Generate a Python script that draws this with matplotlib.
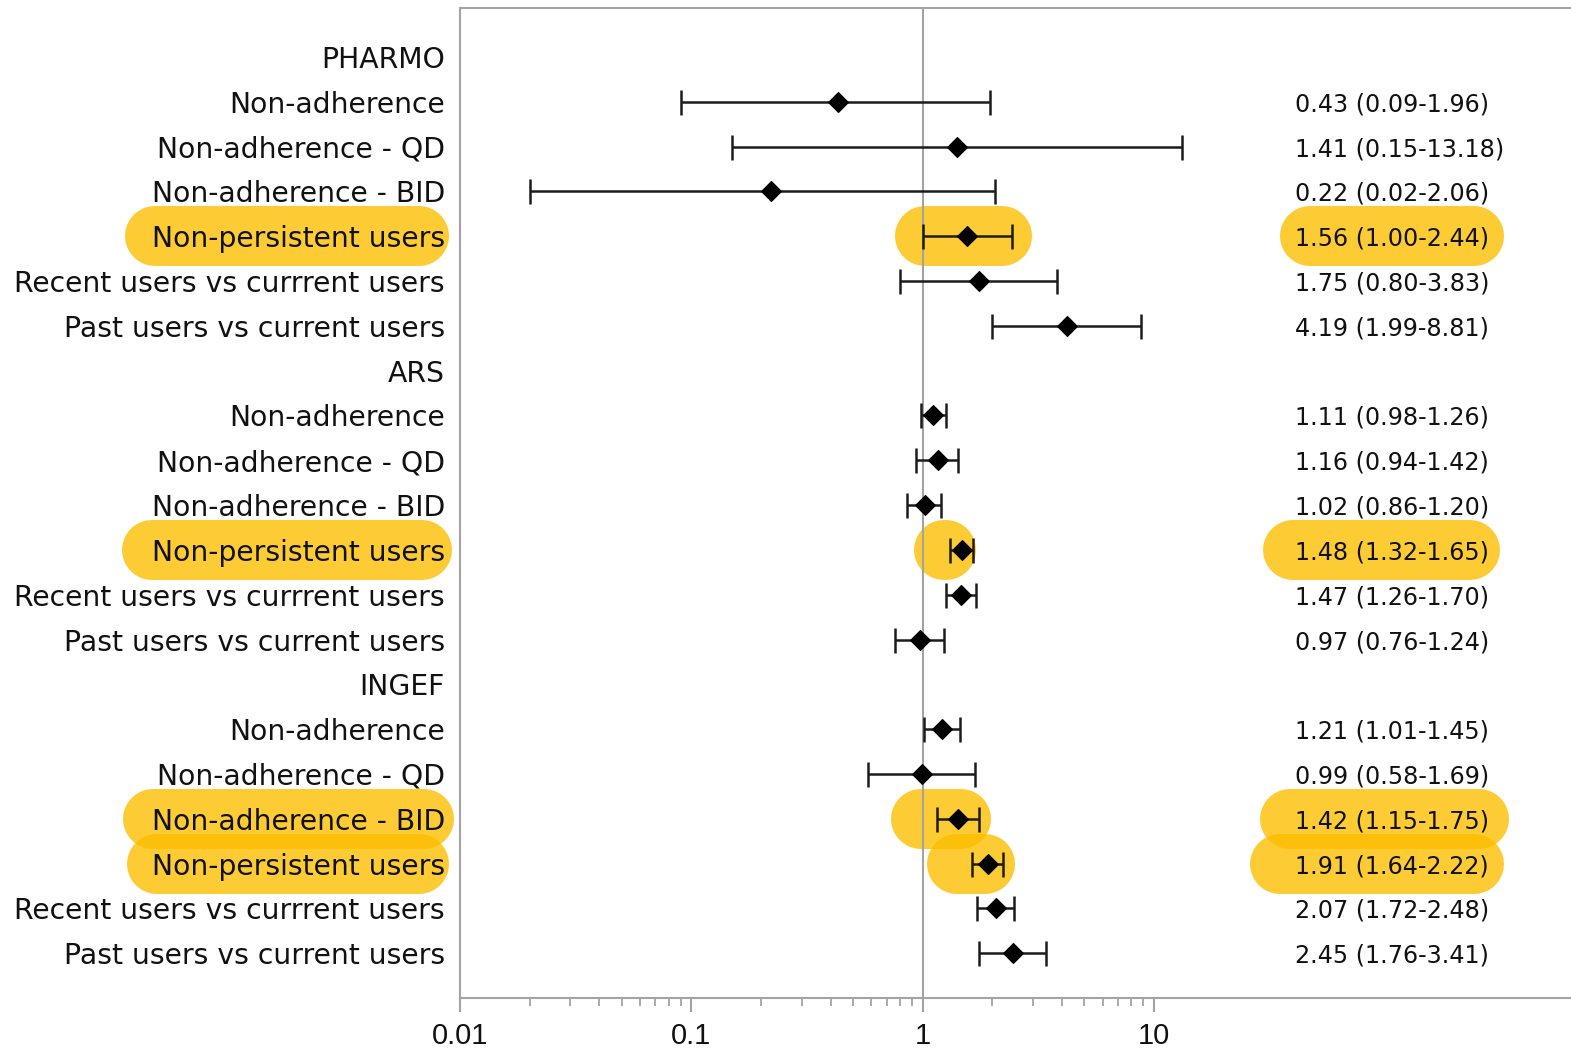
import numpy as np
import matplotlib
matplotlib.use("Agg")
import matplotlib.pyplot as plt
import matplotlib.ticker as mticker
import matplotlib.transforms as mtrans
from matplotlib.lines import Line2D

# ─── Datos ───────────────────────────────────────────────────────────────
COHORTES = ["PHARMO", "ARS", "INGEF"]
COMPARACIONES = ["Non-adherence", "Non-adherence - QD", "Non-adherence - BID",
                 "Non-persistent users", "Recent users vs currrent users",
                 "Past users vs current users"]

hr_pharmo = [0.43, 1.41, 0.22, 1.56, 1.75, 4.19]
lo_pharmo = [0.09, 0.15, 0.02, 1.00, 0.80, 1.99]
hi_pharmo = [1.96, 13.18, 2.06, 2.44, 3.83, 8.81]

hr_ars = [1.11, 1.16, 1.02, 1.48, 1.47, 0.97]
lo_ars = [0.98, 0.94, 0.86, 1.32, 1.26, 0.76]
hi_ars = [1.26, 1.42, 1.20, 1.65, 1.70, 1.24]

hr_ingef = [1.21, 0.99, 1.42, 1.91, 2.07, 2.45]
lo_ingef = [1.01, 0.58, 1.15, 1.64, 1.72, 1.76]
hi_ingef = [1.45, 1.69, 1.75, 2.22, 2.48, 3.41]

# filas resaltadas (cohorte, indice de comparacion)
resaltados = [("PHARMO", 3), ("ARS", 3), ("INGEF", 2), ("INGEF", 3)]

XTICKS = [0.01, 0.1, 1, 10]
XTICK_LABELS = ["0.01", "0.1", "1", "10"]

datos = {"PHARMO": (hr_pharmo, lo_pharmo, hi_pharmo),
         "ARS": (hr_ars, lo_ars, hi_ars),
         "INGEF": (hr_ingef, lo_ingef, hi_ingef)}

# construir filas
filas = []  # (etiqueta, hr, lo, hi, es_cabecera, clave)
for c in COHORTES:
    filas.append((c, None, None, None, True, None))
    hr, lo, hi = datos[c]
    for i, comp in enumerate(COMPARACIONES):
        filas.append((comp, hr[i], lo[i], hi[i], False, (c, i)))

# ─── Figura ──────────────────────────────────────────────────────────────
W, H = 1571, 1057
fig = plt.figure(figsize=(W / 100, H / 100), dpi=100, facecolor="white")
ax = fig.add_axes([460 / W, 59 / H, 1111 / W, 990 / H])
ax.patch.set_visible(False)

ax.set_xscale("log")
ax.set_xlim(0.01, 10 ** (-2 + 1111 / 231.3))
ax.set_ylim(21.0, -1.094)

GRIS = "#a3a3a3"
ax.axvline(1, color=GRIS, lw=1.5, zorder=1)

ys = np.arange(len(filas))
idx = [k for k, f in enumerate(filas) if not f[4]]
hrs = np.array([filas[k][1] for k in idx])
los = np.array([filas[k][2] for k in idx])
his = np.array([filas[k][3] for k in idx])
ax.errorbar(hrs, ys[idx], xerr=[hrs - los, his - hrs], fmt="none",
            ecolor="#1c1c1c", elinewidth=1.8, capsize=9, capthick=1.8, zorder=3)
ax.plot(hrs, ys[idx], "D", color="black", ms=10.5, mew=0.8, zorder=4)

trans = mtrans.blended_transform_factory(ax.transAxes, ax.transData)
txt_lab = {}
txt_val = {}
for k, (lab, hr, lo, hi, cab, clave) in enumerate(filas):
    t = ax.text(-0.0135, k, lab, transform=trans, ha="right", va="center_baseline",
                fontsize=20.3, family="DejaVu Sans", color="#111111", clip_on=False)
    if not cab:
        txt_lab[clave] = (t, k)
        v = ax.text(0.7516, k, f"{hr:.2f} ({lo:.2f}-{hi:.2f})", transform=trans,
                    ha="left", va="center_baseline", fontsize=17.2,
                    family="DejaVu Sans", color="#111111", clip_on=False)
        txt_val[clave] = v

# ejes
ax.spines["right"].set_visible(False)
for s in ["left", "top", "bottom"]:
    ax.spines[s].set_color(GRIS)
    ax.spines[s].set_linewidth(1.5)
ax.set_yticks([])
ax.xaxis.set_major_locator(mticker.FixedLocator(XTICKS))
ax.xaxis.set_major_formatter(mticker.FixedFormatter(XTICK_LABELS))
menores = [m * d for d in [0.01, 0.1, 1] for m in range(2, 10)]
ax.xaxis.set_minor_locator(mticker.FixedLocator(menores))
ax.xaxis.set_minor_formatter(mticker.NullFormatter())
ax.tick_params(axis="x", which="major", length=10, width=1.5, color=GRIS,
               labelsize=21, pad=7)
ax.tick_params(axis="x", which="minor", length=6, width=1.3, color=GRIS)
for lbl in ax.get_xticklabels():
    lbl.set_family("Liberation Sans")
    lbl.set_color("#111111")

# ─── Resaltados amarillos (pildoras) ────────────────────────────────────
fig.canvas.draw()
r = fig.canvas.get_renderer()
AMARILLO = "#FDBE00"
ALTO = 60  # px
# (pad izq, pad der) en px para: etiqueta, intervalo, valor
pads = {("PHARMO", 3): ((27, 4), (28, 20), (15, 15)),
        ("ARS", 3): ((30, 7), (36, 3), (32, 11)),
        ("INGEF", 2): ((29, 9), (46, 12), (35, 20)),
        ("INGEF", 3): ((25, 4), (45, 12), (45, 15))}


def pildora(x0, x1, yc):
    rad = ALTO / 2
    xa, xb = x0 + rad, max(x1 - rad, x0 + rad + 0.5)
    ln = Line2D([xa, xb], [yc, yc], transform=mtrans.IdentityTransform(),
                color=AMARILLO, alpha=0.8, lw=ALTO * 72 / 100,
                solid_capstyle="round", zorder=-1)
    fig.add_artist(ln)


for clave in resaltados:
    t, k = txt_lab[clave]
    (pl, pr), (cl, cr), (vl, vr) = pads[clave]
    yc = ax.transData.transform((1, k))[1]
    bb = t.get_window_extent(r)
    pildora(bb.x0 - pl, bb.x1 + pr, yc)
    c, i = clave
    hr, lo, hi = datos[c]
    x0 = ax.transData.transform((lo[i], k))[0]
    x1 = ax.transData.transform((hi[i], k))[0]
    pildora(x0 - cl, x1 + cr, yc)
    bb = txt_val[clave].get_window_extent(r)
    pildora(bb.x0 - vl, bb.x1 + vr, yc)

plt.savefig("out.png", dpi=100)
plt.close()
